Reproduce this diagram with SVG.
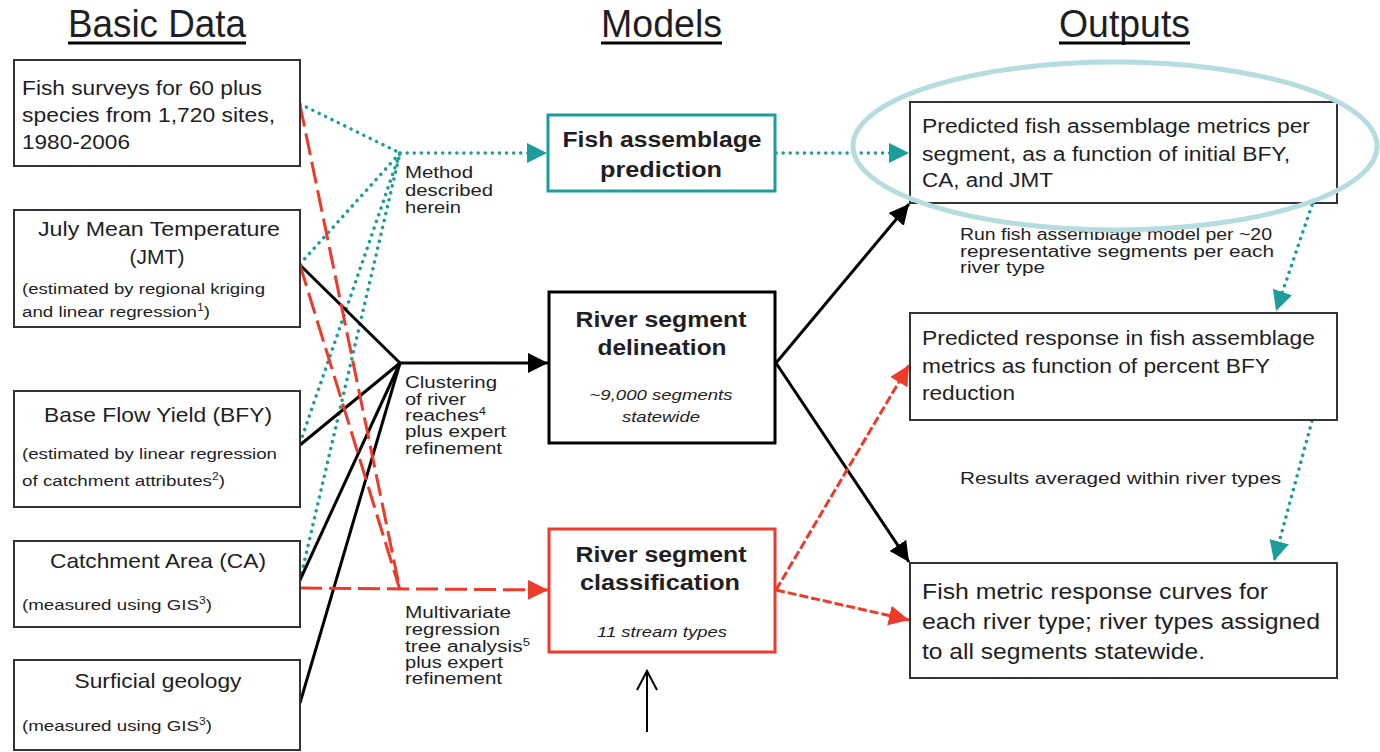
<svg xmlns="http://www.w3.org/2000/svg" width="1380" height="752" viewBox="0 0 1380 752">
<style>
text{font-family:"Liberation Sans",Arial,sans-serif;fill:#1e1e24}
.h{font-size:38px}
.b{font-size:21px}
.s{font-size:15.5px}
.m{font-size:22px;font-weight:bold}
.i{font-size:15px;font-style:italic}
.l{font-size:16px}
.r{font-size:20px}
.r3{font-size:22px}
.sup{font-size:10px}
.box{fill:#fff;stroke:#333;stroke-width:2}
.teal{fill:none;stroke:#1c9c9a;stroke-width:3.5;stroke-linecap:round;stroke-dasharray:0.1 7}
.blk{fill:none;stroke:#000;stroke-width:3}
.red{fill:none;stroke:#ee3a2a;stroke-width:3;stroke-dasharray:22 7}
.red2{fill:none;stroke:#ee3a2a;stroke-width:3;stroke-dasharray:9 3}
</style>
<defs>
<marker id="at" markerUnits="userSpaceOnUse" markerWidth="22" markerHeight="22" refX="20" refY="10" orient="auto" viewBox="0 0 22 22"><path d="M0,0 L20,10 L0,20 z" fill="#1c9c9a"/></marker>
<marker id="ab" markerUnits="userSpaceOnUse" markerWidth="22" markerHeight="22" refX="20" refY="10" orient="auto" viewBox="0 0 22 22"><path d="M0,0 L20,10 L0,20 z" fill="#000"/></marker>
<marker id="ar" markerUnits="userSpaceOnUse" markerWidth="22" markerHeight="22" refX="20" refY="10" orient="auto" viewBox="0 0 22 22"><path d="M0,0 L20,10 L0,20 z" fill="#ee3a2a"/></marker>
</defs>
<rect width="1380" height="752" fill="#fff"/>

<g id="headings">
<text class="h" x="157" y="37" text-anchor="middle" textLength="178" lengthAdjust="spacingAndGlyphs">Basic Data</text>
<line x1="68" y1="43" x2="246" y2="43" stroke="#000" stroke-width="3"/>
<text class="h" x="661.5" y="37" text-anchor="middle" textLength="121" lengthAdjust="spacingAndGlyphs">Models</text>
<line x1="601" y1="43" x2="722" y2="43" stroke="#000" stroke-width="3"/>
<text class="h" x="1124.5" y="37" text-anchor="middle" textLength="131" lengthAdjust="spacingAndGlyphs">Outputs</text>
<line x1="1059" y1="43" x2="1190" y2="43" stroke="#000" stroke-width="3"/>
</g>

<g id="connectors">
<polyline class="teal" points="300,104 400,153"/>
<polyline class="teal" points="300,264 400,153"/>
<polyline class="teal" points="300,443 400,153"/>
<polyline class="teal" points="300,580 400,153"/>
<line class="teal" x1="400" y1="153" x2="547" y2="153" marker-end="url(#at)"/>
<line class="teal" x1="776" y1="153" x2="909" y2="153" marker-end="url(#at)"/>
<line class="teal" x1="1312" y1="205" x2="1276" y2="311" marker-end="url(#at)"/>
<line class="teal" x1="1312" y1="421" x2="1274" y2="561" marker-end="url(#at)"/>
<line class="blk" x1="300" y1="265" x2="400" y2="363"/>
<line class="blk" x1="300" y1="445" x2="400" y2="363"/>
<line class="blk" x1="300" y1="580" x2="400" y2="363"/>
<line class="blk" x1="300" y1="703" x2="400" y2="363"/>
<line class="blk" x1="400" y1="363" x2="548" y2="363" stroke-width="4" marker-end="url(#ab)"/>
<line class="blk" x1="776" y1="363" x2="909" y2="204" marker-end="url(#ab)"/>
<line class="blk" x1="776" y1="363" x2="909" y2="562" marker-end="url(#ab)"/>
<line class="red" x1="300" y1="105" x2="400" y2="590"/>
<line class="red" x1="300" y1="265" x2="400" y2="590"/>
<line class="red" x1="300" y1="588" x2="548" y2="590" marker-end="url(#ar)"/>
<line class="red2" x1="776" y1="590" x2="909" y2="365" marker-end="url(#ar)"/>
<line class="red2" x1="776" y1="590" x2="909" y2="620" marker-end="url(#ar)"/>
</g>

<g id="labels">
<text class="l"><tspan x="405" y="178" textLength="68" lengthAdjust="spacingAndGlyphs">Method</tspan><tspan x="405" y="196" textLength="88" lengthAdjust="spacingAndGlyphs">described</tspan><tspan x="405" y="213" textLength="56" lengthAdjust="spacingAndGlyphs">herein</tspan></text>
<text class="l"><tspan x="405" y="388" textLength="92" lengthAdjust="spacingAndGlyphs">Clustering</tspan><tspan x="405" y="405" textLength="61" lengthAdjust="spacingAndGlyphs">of river</tspan><tspan x="405" y="437" textLength="101" lengthAdjust="spacingAndGlyphs">plus expert</tspan><tspan x="405" y="454" textLength="97" lengthAdjust="spacingAndGlyphs">refinement</tspan></text>
<text class="l" x="405" y="421" textLength="81" lengthAdjust="spacingAndGlyphs">reaches<tspan class="sup" dy="-6">4</tspan></text>
<text class="l"><tspan x="405" y="618" textLength="106" lengthAdjust="spacingAndGlyphs">Multivariate</tspan><tspan x="405" y="635" textLength="95" lengthAdjust="spacingAndGlyphs">regression</tspan><tspan x="405" y="668" textLength="98" lengthAdjust="spacingAndGlyphs">plus expert</tspan><tspan x="405" y="684" textLength="97" lengthAdjust="spacingAndGlyphs">refinement</tspan></text>
<text class="l" x="405" y="652" textLength="125" lengthAdjust="spacingAndGlyphs">tree analysis<tspan class="sup" dy="-6">5</tspan></text>
<text class="l"><tspan x="960" y="240" textLength="312" lengthAdjust="spacingAndGlyphs">Run fish assemblage model per ~20</tspan><tspan x="960" y="257" textLength="314" lengthAdjust="spacingAndGlyphs">representative segments per each</tspan><tspan x="960" y="273" textLength="85" lengthAdjust="spacingAndGlyphs">river type</tspan></text>
<text class="l" x="960" y="484" font-size="17" textLength="321" lengthAdjust="spacingAndGlyphs">Results averaged within river types</text>
</g>

<g id="n-fish-surveys">
<rect class="box" x="14" y="60" width="286" height="106"/>
<text class="b" font-size="22"><tspan x="22" y="95" textLength="240" lengthAdjust="spacingAndGlyphs">Fish surveys for 60 plus</tspan><tspan x="22" y="122" textLength="253" lengthAdjust="spacingAndGlyphs">species from 1,720 sites,</tspan><tspan x="22" y="149" textLength="108" lengthAdjust="spacingAndGlyphs">1980-2006</tspan></text>
</g>
<g id="n-jmt">
<rect class="box" x="14" y="210" width="286" height="117"/>
<text class="b" x="159" y="236" text-anchor="middle" textLength="242" lengthAdjust="spacingAndGlyphs">July Mean Temperature</text>
<text class="b" x="157" y="264" text-anchor="middle">(JMT)</text>
<text class="s" x="22" y="294" textLength="243" lengthAdjust="spacingAndGlyphs">(estimated by regional kriging</text>
<text class="s" x="22" y="317" textLength="188" lengthAdjust="spacingAndGlyphs">and linear regression<tspan class="sup" dy="-6">1</tspan><tspan dy="6">)</tspan></text>
</g>
<g id="n-bfy">
<rect class="box" x="14" y="391" width="286" height="116"/>
<text class="b" x="158" y="422" text-anchor="middle" textLength="228" lengthAdjust="spacingAndGlyphs">Base Flow Yield (BFY)</text>
<text class="s" x="22" y="459" textLength="255" lengthAdjust="spacingAndGlyphs">(estimated by linear regression</text>
<text class="s" x="22" y="486" textLength="203" lengthAdjust="spacingAndGlyphs">of catchment attributes<tspan class="sup" dy="-6">2</tspan><tspan dy="6">)</tspan></text>
</g>
<g id="n-ca">
<rect class="box" x="14" y="541" width="286" height="86"/>
<text class="b" x="158" y="568" text-anchor="middle" textLength="216" lengthAdjust="spacingAndGlyphs">Catchment Area (CA)</text>
<text class="s" x="22" y="610" textLength="190" lengthAdjust="spacingAndGlyphs">(measured using GIS<tspan class="sup" dy="-6">3</tspan><tspan dy="6">)</tspan></text>
</g>
<g id="n-geology">
<rect class="box" x="14" y="660" width="286" height="90"/>
<text class="b" x="158" y="688" text-anchor="middle" textLength="167" lengthAdjust="spacingAndGlyphs">Surficial geology</text>
<text class="s" x="22" y="731" textLength="190" lengthAdjust="spacingAndGlyphs">(measured using GIS<tspan class="sup" dy="-6">3</tspan><tspan dy="6">)</tspan></text>
</g>

<g id="n-fish-model">
<rect x="548" y="115" width="227" height="76" fill="#fff" stroke="#1c9c9a" stroke-width="3"/>
<text class="m" x="662" y="147" text-anchor="middle" textLength="199" lengthAdjust="spacingAndGlyphs">Fish assemblage</text>
<text class="m" x="661" y="177" text-anchor="middle" textLength="122" lengthAdjust="spacingAndGlyphs">prediction</text>
</g>
<g id="n-delineation">
<rect x="549" y="292" width="226" height="151" fill="#fff" stroke="#000" stroke-width="3"/>
<text class="m" x="661" y="327" text-anchor="middle" textLength="171" lengthAdjust="spacingAndGlyphs">River segment</text>
<text class="m" x="662" y="355" text-anchor="middle" textLength="129" lengthAdjust="spacingAndGlyphs">delineation</text>
<text class="i" x="661" y="400" text-anchor="middle" textLength="143" lengthAdjust="spacingAndGlyphs">~9,000 segments</text>
<text class="i" x="661" y="422" text-anchor="middle" textLength="78" lengthAdjust="spacingAndGlyphs">statewide</text>
</g>
<g id="n-classification">
<rect x="549" y="529" width="226" height="123" fill="#fff" stroke="#ee3a2a" stroke-width="3"/>
<text class="m" x="661" y="562" text-anchor="middle" textLength="171" lengthAdjust="spacingAndGlyphs">River segment</text>
<text class="m" x="660" y="590" text-anchor="middle" textLength="160" lengthAdjust="spacingAndGlyphs">classification</text>
<text class="i" x="662" y="637" text-anchor="middle" textLength="130" lengthAdjust="spacingAndGlyphs">11 stream types</text>
</g>
<g id="pointer">
<line x1="647" y1="732" x2="647" y2="671" stroke="#000" stroke-width="2"/>
<polyline points="637,690 647,671 657,690" fill="none" stroke="#000" stroke-width="2"/>
</g>

<g id="n-out1">
<rect class="box" x="910" y="102" width="427" height="101"/>
<text class="r"><tspan x="922" y="133" textLength="388" lengthAdjust="spacingAndGlyphs">Predicted fish assemblage metrics per</tspan><tspan x="922" y="161" textLength="368" lengthAdjust="spacingAndGlyphs">segment, as a function of initial BFY,</tspan><tspan x="922" y="187" textLength="131" lengthAdjust="spacingAndGlyphs">CA, and JMT</tspan></text>
</g>
<g id="n-out2">
<rect class="box" x="910" y="313" width="427" height="107"/>
<text class="r"><tspan x="922" y="345" textLength="393" lengthAdjust="spacingAndGlyphs">Predicted response in fish assemblage</tspan><tspan x="922" y="373" textLength="348" lengthAdjust="spacingAndGlyphs">metrics as function of percent BFY</tspan><tspan x="922" y="400" textLength="93" lengthAdjust="spacingAndGlyphs">reduction</tspan></text>
</g>
<g id="n-out3">
<rect class="box" x="910" y="563" width="427" height="115"/>
<text class="r3"><tspan x="922" y="599" textLength="346" lengthAdjust="spacingAndGlyphs">Fish metric response curves for</tspan><tspan x="922" y="629" textLength="398" lengthAdjust="spacingAndGlyphs">each river type; river types assigned</tspan><tspan x="922" y="659" textLength="283" lengthAdjust="spacingAndGlyphs">to all segments statewide.</tspan></text>
</g>

<g id="highlight">
<ellipse cx="1115" cy="146" rx="262" ry="84" fill="none" stroke="#b5dde0" stroke-width="5"/>
</g>
</svg>
